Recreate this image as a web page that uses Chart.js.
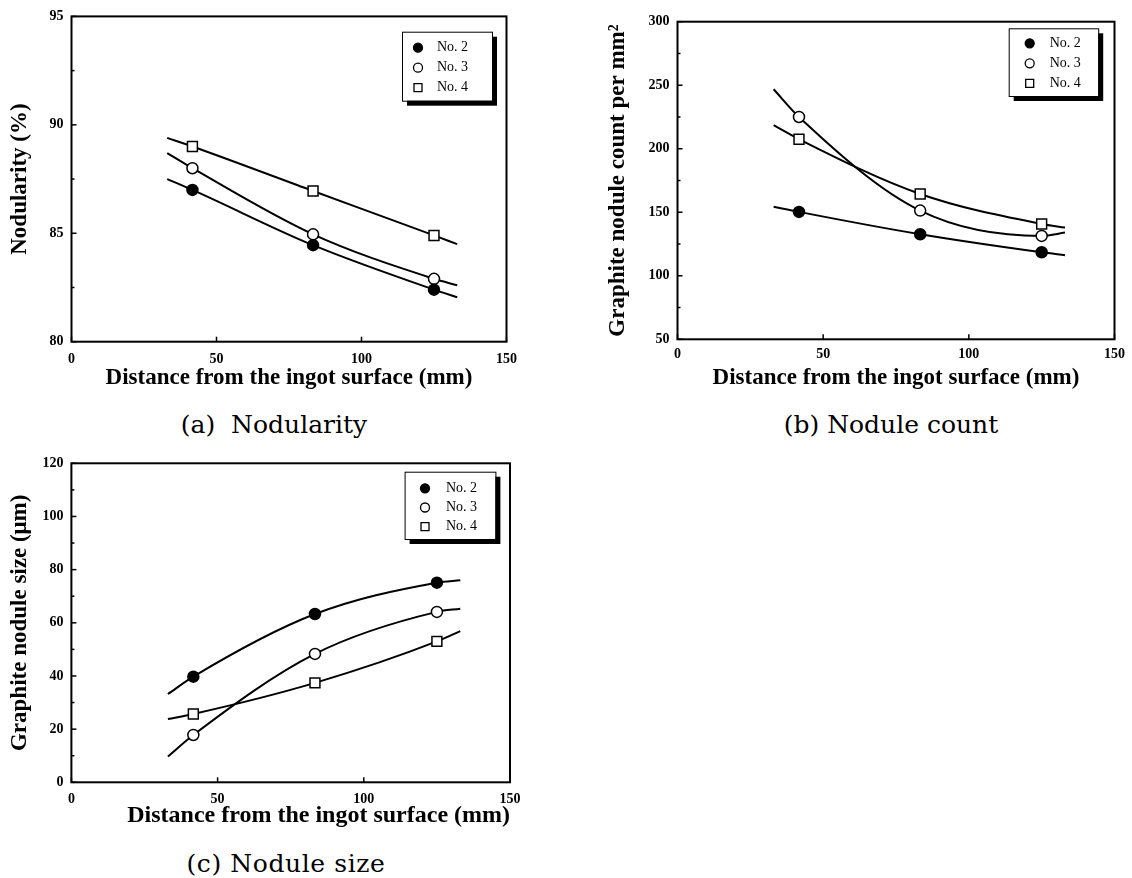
<!DOCTYPE html>
<html>
<head>
<meta charset="utf-8">
<title>Nodularity, nodule count and nodule size</title>
<script src="https://cdn.jsdelivr.net/npm/chart.js@4.4.0/dist/chart.umd.min.js"></script>
<style>
  body { margin: 0; background: #fff; width: 1132px; height: 878px; position: relative; overflow: hidden; }
  .panel { position: absolute; }
  .panel canvas { display: block; }
  .caption { position: absolute; width: 300px; text-align: center; font-family: "DejaVu Serif", serif; font-size: 25px; line-height: 25px; white-space: pre; color: #000; }
</style>
</head>
<body>
<div class="panel" style="left:0;top:0"><canvas id="chart-a" width="540" height="400"></canvas></div>
<div class="panel" style="left:560px;top:0"><canvas id="chart-b" width="572" height="400"></canvas></div>
<div class="panel" style="left:0;top:440px"><canvas id="chart-c" width="560" height="400"></canvas></div>
<div class="caption" style="left:124px;top:412px">(a)  Nodularity</div>
<div class="caption" style="left:741px;top:412px">(b) Nodule count</div>
<div class="caption" style="left:136px;top:851px;letter-spacing:0.6px">(c) Nodule size</div>

<script>
// Sampling positions (mm from the ingot surface)
const distance = [41.7, 83.3, 125];
const fitDistance = [33, 41.7, 83.3, 125, 133];
const sampleLabels = ["No. 2", "No. 3", "No. 4"];
const xTicks = [0, 50, 100, 150];

// (a) Nodularity (%)
const nodularityNo2 = [87.0, 84.45, 82.4];
const nodularityNo3 = [88.0, 84.95, 82.9];
const nodularityNo4 = [89.0, 86.95, 84.9];
const nodularityFitNo2 = [87.5, 87.0, 84.45, 82.4, 82.05];
const nodularityFitNo3 = [88.7, 88.0, 84.95, 82.9, 82.6];
const nodularityFitNo4 = [89.4, 89.0, 86.95, 84.9, 84.5];
const nodularityTicks = [80, 85, 90, 95];

// (b) Graphite nodule count per mm2
const countNo2 = [150.3, 132.7, 118.5];
const countNo3 = [225, 151.3, 131.4];
const countNo4 = [207.5, 164.4, 140.8];
const countFitNo2 = [154.4, 150.3, 132.7, 118.5, 116.2];
const countFitNo3 = [246.8, 225, 151.3, 131.4, 134.0];
const countFitNo4 = [218.5, 207.5, 164.4, 140.8, 138.0];
const countTicks = [50, 100, 150, 200, 250, 300];

// (c) Graphite nodule size (um)
const sizeNo2 = [39.75, 63.3, 75.1];
const sizeNo3 = [17.8, 48.3, 64.1];
const sizeNo4 = [25.7, 37.4, 53.0];
const sizeFitNo2 = [33.2, 39.75, 63.3, 75.1, 76.0];
const sizeFitNo3 = [9.7, 17.8, 48.3, 64.1, 65.3];
const sizeFitNo4 = [23.8, 25.7, 37.4, 53.0, 56.9];
const sizeTicks = [0, 20, 40, 60, 80, 100, 120];

const FONT = "'Liberation Serif', 'Times New Roman', serif";
Chart.defaults.font.family = FONT;
Chart.defaults.color = "#000";

// marker look for No. 2 / No. 3 / No. 4
const markers = [
  { style: "circle", radius: 5.5, fill: "#000" },
  { style: "circle", radius: 5.5, fill: "#fff" },
  { style: "rect", radius: 7, fill: "#fff" },
];

// draws the box frame, the inward tick marks and the shadowed legend
const framePlugin = {
  id: "frame",
  afterDraw(chart, args, opts) {
    const { ctx, chartArea: area, scales } = chart;
    ctx.save();
    ctx.strokeStyle = "#000";
    ctx.lineWidth = 2;
    ctx.strokeRect(area.left, area.top, area.right - area.left, area.bottom - area.top);

    ctx.lineWidth = 1.5;
    scales.x.ticks.forEach((t) => {
      const px = scales.x.getPixelForValue(t.value);
      ctx.beginPath();
      ctx.moveTo(px, area.bottom);
      ctx.lineTo(px, area.bottom - 5);
      ctx.stroke();
    });
    scales.y.ticks.forEach((t) => {
      const py = scales.y.getPixelForValue(t.value);
      const len = t.label === "" ? 3 : 5;
      ctx.beginPath();
      ctx.moveTo(area.left, py);
      ctx.lineTo(area.left + len, py);
      ctx.stroke();
    });

    // legend
    const lg = opts.legend;
    const bx = area.right - lg.right - lg.width;
    const by = area.top + lg.top;
    ctx.fillStyle = "#000";
    ctx.fillRect(bx + 5, by + 5, lg.width, lg.height);
    ctx.fillStyle = "#fff";
    ctx.fillRect(bx, by, lg.width, lg.height);
    ctx.lineWidth = 1;
    ctx.strokeRect(bx + 0.5, by + 0.5, lg.width, lg.height);
    ctx.font = "14px " + FONT;
    ctx.textBaseline = "middle";
    ctx.textAlign = "left";
    chart.data.datasets.filter((d) => d.label).forEach((d, i) => {
      const mx = bx + lg.markerX;
      const my = by + lg.firstRow + i * lg.rowGap;
      ctx.beginPath();
      if (d.pointStyle === "rect") {
        ctx.rect(mx - 4, my - 4, 8, 8);
      } else {
        ctx.arc(mx, my, 4.5, 0, Math.PI * 2);
      }
      ctx.fillStyle = d.backgroundColor;
      ctx.fill();
      ctx.lineWidth = 1.3;
      ctx.stroke();
      ctx.fillStyle = "#000";
      ctx.fillText(d.label, bx + lg.textX, my);
    });
    ctx.restore();
  },
};

function toPoints(xs, ys) {
  return xs.map((x, i) => ({ x: x, y: ys[i] }));
}

function makePanel(id, p) {
  const datasets = [];
  p.values.forEach((vals, i) => {
    datasets.push({
      label: sampleLabels[i],
      data: toPoints(distance, vals),
      showLine: false,
      pointStyle: markers[i].style,
      pointRadius: markers[i].radius,
      backgroundColor: markers[i].fill,
      borderColor: "#000",
      borderWidth: 1.5,
      order: 0,
    });
  });
  p.fits.forEach((vals) => {
    datasets.push({
      data: toPoints(fitDistance, vals),
      showLine: true,
      pointRadius: 0,
      borderColor: "#000",
      borderWidth: 2,
      cubicInterpolationMode: "monotone",
      fill: false,
      order: 1,
    });
  });

  const labelled = p.yLabels;
  new Chart(document.getElementById(id), {
    type: "scatter",
    data: { datasets: datasets },
    plugins: [framePlugin],
    options: {
      responsive: false,
      animation: false,
      devicePixelRatio: 1,
      layout: { padding: { left: 0, top: p.top, right: p.right, bottom: 0 } },
      plugins: {
        legend: { display: false },
        tooltip: { enabled: false },
        frame: { legend: p.legend },
      },
      scales: {
        x: {
          type: "linear",
          min: xTicks[0],
          max: xTicks[xTicks.length - 1],
          afterBuildTicks: (s) => { s.ticks = xTicks.map((v) => ({ value: v })); },
          ticks: { padding: p.xTickPad, autoSkip: false, maxRotation: 0, font: { size: 14, weight: "bold" } },
          grid: { display: false, drawTicks: false },
          border: { display: false },
          title: {
            display: true,
            text: "Distance from the ingot surface (mm)",
            align: p.xTitleAlign || "center",
            font: { size: p.xTitleSize || 23, weight: "bold", lineHeight: 1.2 },
            padding: { top: 0, bottom: p.xTitlePad },
          },
          afterFit: (s) => { s.height = p.xHeight; },
        },
        y: {
          type: "linear",
          min: labelled[0],
          max: labelled[labelled.length - 1],
          ticks: {
            stepSize: p.yStep,
            padding: 8,
            autoSkip: false,
            font: { size: 14, weight: "bold" },
            callback: (v) => (labelled.indexOf(v) >= 0 ? String(v) : ""),
          },
          grid: { display: false, drawTicks: false },
          border: { display: false },
          title: {
            display: true,
            text: p.yTitle,
            font: { size: 23, weight: "bold", lineHeight: 1.2 },
            padding: { top: p.yTitlePad, bottom: 0 },
          },
          afterFit: (s) => { s.width = p.yWidth; },
        },
      },
    },
  });
}

// (a) Nodularity
makePanel("chart-a", {
  values: [nodularityNo2, nodularityNo3, nodularityNo4],
  fits: [nodularityFitNo2, nodularityFitNo3, nodularityFitNo4],
  yLabels: nodularityTicks, yStep: 2.5,
  yTitle: "Nodularity (%)",
  top: 15.7, right: 33.5, yWidth: 71.5, xHeight: 58.3,
  xTickPad: 9.6, xTitlePad: 8.2, yTitlePad: 5.8,
  legend: { right: 14.5, top: 15.3, width: 90, height: 69, markerX: 16, textX: 35, firstRow: 16, rowGap: 20 },
});

// (b) Nodule count
makePanel("chart-b", {
  values: [countNo2, countNo3, countNo4],
  fits: [countFitNo2, countFitNo3, countFitNo4],
  yLabels: countTicks, yStep: 25,
  yTitle: "Graphite nodule count per mm\u00B2",
  top: 21.7, right: 16.7, yWidth: 117.5, xHeight: 60.7,
  xTickPad: 7, xTitlePad: 8.2, yTitlePad: 44.6,
  legend: { right: 16.3, top: 6.6, width: 89.5, height: 67.7, markerX: 21, textX: 41, firstRow: 15, rowGap: 20 },
});

// (c) Nodule size - the axis title sits right-aligned in the original
makePanel("chart-c", {
  values: [sizeNo2, sizeNo3, sizeNo4],
  fits: [sizeFitNo2, sizeFitNo3, sizeFitNo4],
  yLabels: sizeTicks, yStep: 10,
  yTitle: "Graphite nodule size (\u03BCm)",
  top: 23.3, right: 50, yWidth: 71.4, xHeight: 57.7,
  xTickPad: 9, xTitlePad: 9.5, yTitlePad: 5.8,
  xTitleAlign: "end", xTitleSize: 24,
  legend: { right: 14.6, top: 8.4, width: 90.8, height: 67.3, markerX: 20.4, textX: 41.4, firstRow: 16.6, rowGap: 19.2 },
});
</script>
</body>
</html>
